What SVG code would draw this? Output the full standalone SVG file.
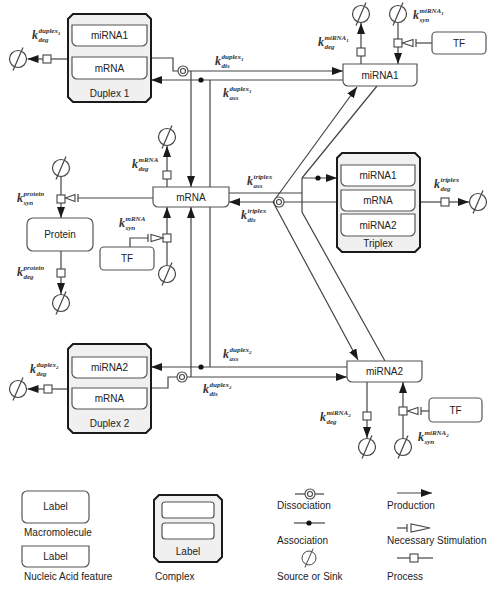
<svg xmlns="http://www.w3.org/2000/svg" xmlns:xlink="http://www.w3.org/1999/xlink" width="499" height="600" viewBox="0 0 499 600">
<style>
.ln{stroke:#444;stroke-width:1.2;fill:none}
.node{fill:#fff;stroke:#555;stroke-width:1.2}
.cx{fill:#f0f0f0;stroke:#1a1a1a;stroke-width:2}
.pr{fill:#fff;stroke:#444;stroke-width:1.1}
.t{font-family:"Liberation Sans",Arial,sans-serif;font-size:10px;fill:#222;text-anchor:middle}
.lg{font-family:"Liberation Sans",Arial,sans-serif;font-size:10px;fill:#222}
.k{font-family:"Liberation Serif","Times New Roman",serif;font-style:italic;font-weight:bold;font-size:12px;fill:#333}
.ks{font-family:"Liberation Serif","Times New Roman",serif;font-style:italic;font-weight:bold;font-size:7px;fill:#333}
.kss{font-size:5px}
.dot{fill:#111}
.stim{fill:#fff;stroke:#444;stroke-width:1.1}
</style>
<defs>
<marker id="arr" viewBox="0 0 11 8" refX="11" refY="4" markerWidth="11" markerHeight="8" markerUnits="userSpaceOnUse" orient="auto">
<path d="M0,0 L11,4 L0,8 z" fill="#1a1a1a"/>
</marker>
<g id="sink">
<circle cx="0" cy="0" r="8.5" fill="#fff" stroke="#444" stroke-width="1.2"/>
<line x1="-5" y1="11.5" x2="5" y2="-11.5" stroke="#444" stroke-width="1.2"/>
</g>
<g id="diss">
<circle cx="0" cy="0" r="5" fill="#fff" stroke="#444" stroke-width="1.1"/>
<circle cx="0" cy="0" r="2.5" fill="#fff" stroke="#444" stroke-width="1.1"/>
</g>
</defs>

<!-- Connectors -->
<g id="connectors">
<path class="ln" d="M68,59 H51"/>
<path class="ln" d="M43,59 H27.5" marker-end="url(#arr)"/>
<path class="ln" d="M151,58 H173 V71 H178"/>
<path class="ln" d="M188,71 H343" marker-end="url(#arr)"/>
<path class="ln" d="M191,71 V187" marker-end="url(#arr)"/>
<path class="ln" d="M343,80 H151" marker-end="url(#arr)"/>
<path class="ln" d="M210,80 V187"/>
<path class="ln" d="M167,187 V179"/>
<path class="ln" d="M167,171 V146" marker-end="url(#arr)"/>
<path class="ln" d="M167,265 V242"/>
<path class="ln" d="M167,234 V207" marker-end="url(#arr)"/>
<path class="ln" d="M130,247 V238 H148"/>
<path class="ln" d="M61,177 V195"/>
<path class="ln" d="M61,203 V218" marker-end="url(#arr)"/>
<path class="ln" d="M153,198 H78"/>
<path class="ln" d="M61,251 V269"/>
<path class="ln" d="M61,277 V294" marker-end="url(#arr)"/>
<path class="ln" d="M361,64 V56"/>
<path class="ln" d="M361,48 V23" marker-end="url(#arr)"/>
<path class="ln" d="M398,23 V39"/>
<path class="ln" d="M398,47 V64" marker-end="url(#arr)"/>
<path class="ln" d="M432,43 H416"/>
<path class="ln" d="M367,382 V412"/>
<path class="ln" d="M367,420 V438" marker-end="url(#arr)"/>
<path class="ln" d="M403,438 V415"/>
<path class="ln" d="M403,407 V382" marker-end="url(#arr)"/>
<path class="ln" d="M429,411 H421"/>
<path class="ln" d="M420,202 H441"/>
<path class="ln" d="M449,202 H469" marker-end="url(#arr)"/>
<path class="ln" d="M337,202 H284"/>
<path class="ln" d="M274,202 H229" marker-end="url(#arr)"/>
<path class="ln" d="M273,202 L357,87" marker-end="url(#arr)"/>
<path class="ln" d="M273,202 L358,360" marker-end="url(#arr)"/>
<path class="ln" d="M229,193 H302"/>
<path class="ln" d="M302,178 V212 L385,361"/>
<path class="ln" d="M377,86 L302,178"/>
<path class="ln" d="M302,178 H337" marker-end="url(#arr)"/>
<path class="ln" d="M347,367 H151" marker-end="url(#arr)"/>
<path class="ln" d="M210,207 V367"/>
<path class="ln" d="M187,377 H347" marker-end="url(#arr)"/>
<path class="ln" d="M191,377 V207" marker-end="url(#arr)"/>
<path class="ln" d="M177,377 H168 V388 H151"/>
<path class="ln" d="M68,389 H52"/>
<path class="ln" d="M44,389 H27.5" marker-end="url(#arr)"/>

<rect class="pr" x="43" y="55" width="8" height="8"/>
<rect class="pr" x="163" y="171" width="8" height="8"/>
<rect class="pr" x="163" y="234" width="8" height="8"/>
<rect class="pr" x="57" y="195" width="8" height="8"/>
<rect class="pr" x="57" y="269" width="8" height="8"/>
<rect class="pr" x="357" y="48" width="8" height="8"/>
<rect class="pr" x="394" y="39" width="8" height="8"/>
<rect class="pr" x="363" y="412" width="8" height="8"/>
<rect class="pr" x="399" y="407" width="8" height="8"/>
<rect class="pr" x="441" y="198" width="8" height="8"/>
<rect class="pr" x="44" y="385" width="8" height="8"/>

<path class="ln" d="M148,234 V242"/>
<polygon class="stim" points="163,238 151,234.5 151,241.5"/>
<path class="ln" d="M78,194 V202"/>
<polygon class="stim" points="65.5,198 75,194.5 75,201.5"/>
<path class="ln" d="M416,39 V47"/>
<polygon class="stim" points="402.5,43 413,39.5 413,46.5"/>
<path class="ln" d="M421,407 V415"/>
<polygon class="stim" points="407.5,411 418,407.5 418,414.5"/>

<circle class="dot" cx="201" cy="80" r="2.6"/>
<circle class="dot" cx="318" cy="178" r="2.6"/>
<circle class="dot" cx="201" cy="367" r="2.6"/>

<use xlink:href="#diss" x="183" y="71"/>
<use xlink:href="#diss" x="279" y="202"/>
<use xlink:href="#diss" x="182" y="377"/>

<use xlink:href="#sink" x="18" y="59"/>
<use xlink:href="#sink" x="167" y="137"/>
<use xlink:href="#sink" x="167" y="274"/>
<use xlink:href="#sink" x="61" y="168"/>
<use xlink:href="#sink" x="61" y="303"/>
<use xlink:href="#sink" x="361" y="14"/>
<use xlink:href="#sink" x="398" y="14"/>
<use xlink:href="#sink" x="367" y="447"/>
<use xlink:href="#sink" x="403" y="447"/>
<use xlink:href="#sink" x="478" y="202"/>
<use xlink:href="#sink" x="18" y="389"/>
</g>

<!-- Nodes -->
<g id="duplex1">
<path class="cx" d="M73,14 H146 L151,19 V97 L146,102 H73 L68,97 V19 Z"/>
<path class="node" d="M72,25 H147 V41 A5,5 0 0 1 142,46 H77 A5,5 0 0 1 72,41 Z"/>
<text class="t" x="109.5" y="39">miRNA1</text>
<path class="node" d="M72,57 H147 V74 A5,5 0 0 1 142,79 H77 A5,5 0 0 1 72,74 Z"/>
<text class="t" x="109.5" y="71.5">mRNA</text>
<text class="t" x="109.5" y="97">Duplex 1</text>
</g>

<g id="duplex2">
<path class="cx" d="M73,344 H146 L151,349 V428 L146,433 H73 L68,428 V349 Z"/>
<path class="node" d="M72,357 H147 V373 A5,5 0 0 1 142,378 H77 A5,5 0 0 1 72,373 Z"/>
<text class="t" x="109.5" y="371">miRNA2</text>
<path class="node" d="M72,388 H147 V404 A5,5 0 0 1 142,409 H77 A5,5 0 0 1 72,404 Z"/>
<text class="t" x="109.5" y="402">mRNA</text>
<text class="t" x="109.5" y="427">Duplex 2</text>
</g>

<g id="triplex">
<path class="cx" d="M342,153 H415 L420,158 V247 L415,252 H342 L337,247 V158 Z"/>
<path class="node" d="M341,165 H415 V181 A5,5 0 0 1 410,186 H346 A5,5 0 0 1 341,181 Z"/>
<text class="t" x="378" y="179">miRNA1</text>
<path class="node" d="M341,190 H415 V206 A5,5 0 0 1 410,211 H346 A5,5 0 0 1 341,206 Z"/>
<text class="t" x="378" y="204">mRNA</text>
<path class="node" d="M341,214 H415 V231 A5,5 0 0 1 410,236 H346 A5,5 0 0 1 341,231 Z"/>
<text class="t" x="378" y="229">miRNA2</text>
<text class="t" x="378" y="247">Triplex</text>
</g>

<g id="mRNA">
<path class="node" d="M153,187 H229 V202 A5,5 0 0 1 224,207 H158 A5,5 0 0 1 153,202 Z"/>
<text class="t" x="191" y="201">mRNA</text>
</g>

<g id="miRNA1">
<path class="node" d="M343,64 H417 V81 A5,5 0 0 1 412,86 H348 A5,5 0 0 1 343,81 Z"/>
<text class="t" x="380" y="79">miRNA1</text>
</g>

<g id="miRNA2">
<path class="node" d="M347,361 H422 V377 A5,5 0 0 1 417,382 H352 A5,5 0 0 1 347,377 Z"/>
<text class="t" x="384.5" y="375">miRNA2</text>
</g>

<g id="protein">
<rect class="node" x="27" y="218" width="66" height="33" rx="6"/>
<text class="t" x="60" y="238">Protein</text>
</g>

<g id="TF1">
<rect class="node" x="432" y="32" width="54" height="22" rx="4"/>
<text class="t" x="459" y="47">TF</text>
</g>

<g id="TF2">
<rect class="node" x="100" y="247" width="54" height="23" rx="4"/>
<text class="t" x="127" y="262">TF</text>
</g>

<g id="TF3">
<rect class="node" x="429" y="398" width="53" height="24" rx="4"/>
<text class="t" x="455.5" y="414">TF</text>
</g>

<!-- Rate constant labels -->
<g id="rates">
<text class="k" x="32" y="39">k</text><text class="ks" x="38.5" y="33">duplex<tspan class="kss" dy="1.5">1</tspan></text><text class="ks" x="38.5" y="42">deg</text>
<text class="k" x="215" y="65">k</text><text class="ks" x="221.5" y="59">duplex<tspan class="kss" dy="1.5">1</tspan></text><text class="ks" x="221.5" y="68">dis</text>
<text class="k" x="223" y="97">k</text><text class="ks" x="229.5" y="91">duplex<tspan class="kss" dy="1.5">1</tspan></text><text class="ks" x="229.5" y="100">ass</text>
<text class="k" x="132" y="168">k</text><text class="ks" x="138.5" y="162">mRNA</text><text class="ks" x="138.5" y="171">deg</text>
<text class="k" x="247" y="185">k</text><text class="ks" x="253.5" y="179">triplex</text><text class="ks" x="253.5" y="188">ass</text>
<text class="k" x="241" y="219">k</text><text class="ks" x="247.5" y="213">triplex</text><text class="ks" x="247.5" y="222">dis</text>
<text class="k" x="434" y="188">k</text><text class="ks" x="440.5" y="182">triplex</text><text class="ks" x="440.5" y="191">deg</text>
<text class="k" x="318" y="46">k</text><text class="ks" x="324.5" y="40">miRNA<tspan class="kss" dy="1.5">1</tspan></text><text class="ks" x="324.5" y="49">deg</text>
<text class="k" x="413" y="19">k</text><text class="ks" x="419.5" y="13">miRNA<tspan class="kss" dy="1.5">1</tspan></text><text class="ks" x="419.5" y="22">syn</text>
<text class="k" x="17" y="202">k</text><text class="ks" x="23.5" y="196">protein</text><text class="ks" x="23.5" y="205">syn</text>
<text class="k" x="17" y="276">k</text><text class="ks" x="23.5" y="270">protein</text><text class="ks" x="23.5" y="279">deg</text>
<text class="k" x="119" y="227">k</text><text class="ks" x="125.5" y="221">mRNA</text><text class="ks" x="125.5" y="230">syn</text>
<text class="k" x="223" y="358">k</text><text class="ks" x="229.5" y="352">duplex<tspan class="kss" dy="1.5">2</tspan></text><text class="ks" x="229.5" y="361">ass</text>
<text class="k" x="203" y="393">k</text><text class="ks" x="209.5" y="387">duplex<tspan class="kss" dy="1.5">2</tspan></text><text class="ks" x="209.5" y="396">dis</text>
<text class="k" x="30" y="373">k</text><text class="ks" x="36.5" y="367">duplex<tspan class="kss" dy="1.5">2</tspan></text><text class="ks" x="36.5" y="376">deg</text>
<text class="k" x="320" y="421">k</text><text class="ks" x="326.5" y="415">miRNA<tspan class="kss" dy="1.5">2</tspan></text><text class="ks" x="326.5" y="424">deg</text>
<text class="k" x="418" y="441">k</text><text class="ks" x="424.5" y="435">miRNA<tspan class="kss" dy="1.5">2</tspan></text><text class="ks" x="424.5" y="444">syn</text>
</g>

<!-- Legend -->
<g id="legend">
<rect class="node" x="22" y="491" width="67" height="32" rx="5"/>
<text class="t" x="55.5" y="510">Label</text>
<text class="lg" x="24" y="536">Macromolecule</text>
<path class="node" d="M22,546 H89 V562 A5,5 0 0 1 84,567 H27 A5,5 0 0 1 22,562 Z"/>
<text class="t" x="55.5" y="560">Label</text>
<text class="lg" x="24" y="580">Nucleic Acid feature</text>

<path class="cx" d="M159,495 H217 L222,500 V557 L217,562 H159 L154,557 V500 Z"/>
<rect class="node" x="162" y="502" width="52" height="16" rx="3"/>
<rect class="node" x="162" y="523" width="52" height="16" rx="3"/>
<text class="t" x="188" y="555">Label</text>
<text class="lg" x="155" y="580">Complex</text>

<path class="ln" d="M295,494 H324"/>
<use xlink:href="#diss" x="310" y="494"/>
<text class="lg" x="277" y="509">Dissociation</text>
<path class="ln" d="M294,523 H325"/>
<circle class="dot" cx="309" cy="523" r="2.6"/>
<text class="lg" x="277" y="544">Association</text>
<g transform="translate(309,558) scale(0.82)"><use xlink:href="#sink"/></g>
<text class="lg" x="277" y="580">Source or Sink</text>

<path class="ln" d="M397,493 H432" marker-end="url(#arr)"/>
<text class="lg" x="387" y="509">Production</text>
<path class="ln" d="M397,528 H407"/>
<path class="ln" d="M407,524 V532"/>
<polygon class="stim" points="430,528 411,524 411,532"/>
<text class="lg" x="387" y="544">Necessary Stimulation</text>
<path class="ln" d="M397,558 H410"/>
<rect class="pr" x="410" y="554" width="8" height="8"/>
<path class="ln" d="M418,558 H433"/>
<text class="lg" x="387" y="580">Process</text>
</g>
</svg>
